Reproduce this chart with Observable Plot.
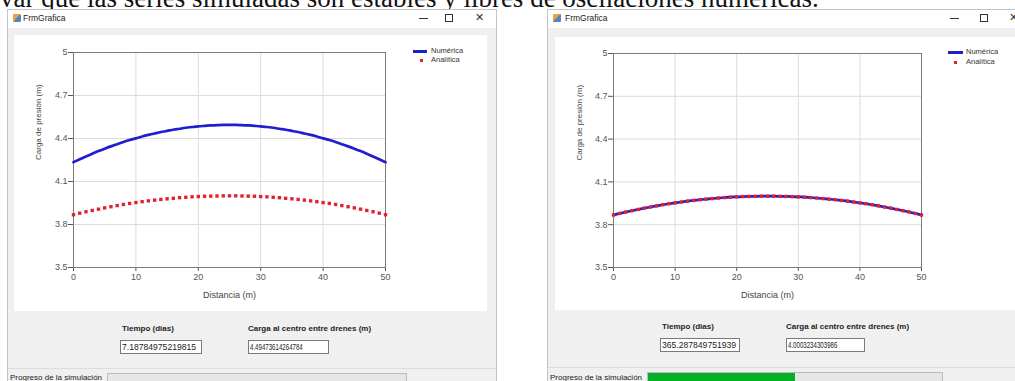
<!DOCTYPE html>
<html>
<head>
<meta charset="utf-8">
<script src="https://cdn.jsdelivr.net/npm/d3@7"></script>
<script src="https://cdn.jsdelivr.net/npm/@observablehq/plot@0.6"></script>
<style>
  html, body { margin: 0; padding: 0; background: #ffffff; width: 1015px; height: 381px; overflow: hidden; position: relative; font-family: "Liberation Sans", Arial, sans-serif; }
  .abs { position: absolute; }
  .toptext { position: absolute; left: 0px; top: -15px; font-family: "Liberation Serif", "Times New Roman", serif; font-size: 27px; line-height: 27px; color: #111; white-space: nowrap; }
  .win { position: absolute; top: 9px; background: #f0f0f0; border: 1px solid #c4c4c4; box-sizing: border-box; }
  .titlebar { position: absolute; left: 0; top: 0; right: 0; height: 18px; background: #ffffff; }
  .icon { position: absolute; top: 4px; width: 8px; height: 8px; background: linear-gradient(135deg, #e9a23b 0%, #e9a23b 50%, #4f86c6 50%, #4f86c6 100%); border-radius: 1px; }
  .title { position: absolute; top: 3px; font-size: 8.5px; color: #222; }
  .bmin { position: absolute; top: 8px; width: 9px; height: 1px; background: #333; }
  .bmax { position: absolute; top: 4px; width: 8px; height: 8px; border: 1px solid #333; box-sizing: border-box; }
  .bclose { position: absolute; top: 1px; font-family: "DejaVu Sans", sans-serif; font-size: 11px; color: #333; }
  .panel { position: absolute; background: #ffffff; }
  .lbl { position: absolute; font-size: 8px; font-weight: bold; color: #222; white-space: nowrap; }
  .box { position: absolute; height: 14px; background: #fff; border: 1px solid #7a7a7a; box-sizing: border-box; font-size: 8.6px; line-height: 12px; color: #222; padding-left: 1px; white-space: nowrap; overflow: hidden; }
  .narrow { display: inline-block; font-size: 9px; transform: scaleX(0.68); transform-origin: left center; }
  .status { position: absolute; font-size: 8px; color: #222; white-space: nowrap; }
  .pbar { position: absolute; height: 12px; background: #e6e6e6; border: 1px solid #bcbcbc; box-sizing: border-box; }
  .pfill { position: absolute; left: 0; top: 0; bottom: 0; background: #06b025; }
  .legline { position: absolute; height: 2.5px; background: #1f1fd0; }
  .legdot { position: absolute; width: 3px; height: 3px; background: #e3202e; }
  .legtxt { position: absolute; font-size: 7.5px; color: #333; white-space: nowrap; }
</style>
</head>
<body>
<div class="toptext">var que las series simuladas son estables y libres de oscilaciones numéricas.</div>

<!-- Window 1 -->
<div class="win" style="left:7px; width:490px; height:380px;">
  <div class="titlebar">
    <div class="icon" style="left:5px;"></div>
    <div class="title" style="left:15px;">FrmGrafica</div>
    <div class="bmin" style="left:411px;"></div>
    <div class="bmax" style="left:437px;"></div>
    <div class="bclose" style="left:467px;">✕</div>
  </div>
</div>
<div class="panel" id="p1" style="left:14px; top:35px; width:473px; height:276px;"></div>
<div class="legline" style="left:413px; top:50px; width:14px;"></div>
<div class="legtxt" style="left:431px; top:46px;">Numérica</div>
<div class="legdot" style="left:420px; top:59px;"></div>
<div class="legtxt" style="left:431px; top:55px;">Analítica</div>
<div class="lbl" style="left:122px; top:324px;">Tiempo (dias)</div>
<div class="lbl" style="left:248px; top:324px;">Carga al centro entre drenes (m)</div>
<div class="box" style="left:120px; top:340px; width:82px;">7.18784975219815</div>
<div class="box" style="left:248px; top:340px; width:81px;"><span class="narrow">4.49473614264784</span></div>
<div class="abs" style="left:8px; top:368px; width:488px; height:1px; background:#dcdcdc;"></div>
<div class="status" style="left:10px; top:373px;">Progreso de la simulación</div>
<div class="pbar" style="left:107px; top:373px; width:300px;"></div>

<!-- Window 2 -->
<div class="win" style="left:547px; width:490px; height:380px;">
  <div class="titlebar">
    <div class="icon" style="left:5px;"></div>
    <div class="title" style="left:17px;">FrmGrafica</div>
    <div class="bmin" style="left:402px;"></div>
    <div class="bmax" style="left:432px;"></div>
    <div class="bclose" style="left:461px;">✕</div>
  </div>
</div>
<div class="panel" id="p2" style="left:555px; top:37px; width:470px; height:273px;"></div>
<div class="legline" style="left:948px; top:51px; width:15px;"></div>
<div class="legtxt" style="left:966px; top:47px;">Numérica</div>
<div class="legdot" style="left:954px; top:61px;"></div>
<div class="legtxt" style="left:966px; top:57px;">Analítica</div>
<div class="lbl" style="left:662px; top:322px;">Tiempo (dias)</div>
<div class="lbl" style="left:786px; top:322px;">Carga al centro entre drenes (m)</div>
<div class="box" style="left:660px; top:338px; width:80px;">365.287849751939</div>
<div class="box" style="left:786px; top:338px; width:79px;"><span class="narrow">4.0003234303986</span></div>
<div class="abs" style="left:548px; top:367px; width:467px; height:1px; background:#dcdcdc;"></div>
<div class="status" style="left:550px; top:373px;">Progreso de la simulación</div>
<div class="pbar" style="left:647px; top:372px; width:296px;"><div class="pfill" style="width:147px;"></div></div>

<script>
// ---- data ----
const distancia = [0,1,2,3,4,5,6,7,8,9,10,11,12,13,14,15,16,17,18,19,20,21,22,23,24,25,26,27,28,29,30,31,32,33,34,35,36,37,38,39,40,41,42,43,44,45,46,47,48,49,50];

// Left window (t = 7.19 dias): numerical solution
const numericaT1 = [4.235,4.255,4.275,4.294,4.312,4.329,4.345,4.360,4.375,4.389,4.401,4.414,4.425,4.435,4.445,4.453,4.461,4.468,4.475,4.480,4.485,4.488,4.491,4.493,4.495,4.495,4.495,4.493,4.491,4.488,4.485,4.480,4.475,4.468,4.461,4.453,4.445,4.435,4.425,4.414,4.401,4.389,4.375,4.360,4.345,4.329,4.312,4.294,4.275,4.255,4.235];

// Analytical (steady-state) solution, same in both windows
const analitica = [3.868,3.879,3.889,3.898,3.907,3.916,3.924,3.932,3.940,3.947,3.953,3.959,3.965,3.970,3.975,3.979,3.983,3.987,3.990,3.993,3.995,3.997,3.998,3.999,4.000,4.000,4.000,3.999,3.998,3.997,3.995,3.993,3.990,3.987,3.983,3.979,3.975,3.970,3.965,3.959,3.953,3.947,3.940,3.932,3.924,3.916,3.907,3.898,3.889,3.879,3.868];

// Right window (t = 365.29 dias): numerical solution
const numericaT2 = [3.868,3.879,3.889,3.898,3.907,3.916,3.924,3.932,3.940,3.947,3.953,3.959,3.965,3.970,3.975,3.979,3.983,3.987,3.990,3.993,3.995,3.997,3.998,3.999,4.000,4.000,4.000,3.999,3.998,3.997,3.995,3.993,3.990,3.987,3.983,3.979,3.975,3.970,3.965,3.959,3.953,3.947,3.940,3.932,3.924,3.916,3.907,3.898,3.889,3.879,3.868];

const xTicks = [0, 10, 20, 30, 40, 50];
const yTicks = [3.5, 3.8, 4.1, 4.4, 4.7, 5];
const xLabel = "Distancia (m)";
const yLabel = "Carga de presión (m)";

function makeChart(numerica, cfg) {
  const num = distancia.map((d, i) => ({x: d, y: numerica[i]}));
  const ana = distancia.map((d, i) => ({x: d, y: analitica[i]}));
  return Plot.plot({
    width: cfg.width,
    height: cfg.height,
    marginLeft: cfg.ml,
    marginRight: cfg.mr,
    marginTop: cfg.mt,
    marginBottom: cfg.mb,
    style: {fontFamily: "'Liberation Sans', Arial, sans-serif", fontSize: "9px", color: "#555", background: "transparent", overflow: "visible"},
    x: {domain: [0, 50], ticks: xTicks, tickSize: 4, tickPadding: 2, label: null},
    y: {domain: [3.5, 5], ticks: yTicks, tickSize: 5, tickPadding: 1, tickFormat: d => String(d), label: null},
    marks: [
      Plot.ruleX(xTicks, {stroke: "#dcdcdc", strokeWidth: 1}),
      Plot.ruleY(yTicks, {stroke: "#dcdcdc", strokeWidth: 1}),
      Plot.frame({stroke: "#7a7a7a", strokeWidth: 1}),
      Plot.line(num, {x: "x", y: "y", stroke: "#1f1fd0", strokeWidth: 2.7, curve: "natural"}),
      Plot.dot(ana, {x: "x", y: "y", symbol: "square", r: 1.9, fill: "#e3202e", stroke: "none"}),
      Plot.text([xLabel], {text: d => d, frameAnchor: "bottom", dy: 28, lineAnchor: "middle", fontSize: 9, fill: "#444"}),
      Plot.text([yLabel], {text: d => d, frameAnchor: "left", dx: cfg.ydx, rotate: -90, lineAnchor: "middle", fontSize: 8, fill: "#444"})
    ]
  });
}

const c1 = makeChart(numericaT1, {width: 473, height: 276, ml: 59, mr: 102, mt: 17, mb: 44, ydx: -35});
const c2 = makeChart(numericaT2, {width: 460, height: 273, ml: 58, mr: 94, mt: 16, mb: 43, ydx: -34});
c1.style.position = "absolute"; c1.style.left = "0px"; c1.style.top = "0px";
c2.style.position = "absolute"; c2.style.left = "0px"; c2.style.top = "0px";
document.getElementById("p1").appendChild(c1);
document.getElementById("p2").appendChild(c2);
</script>
</body>
</html>
